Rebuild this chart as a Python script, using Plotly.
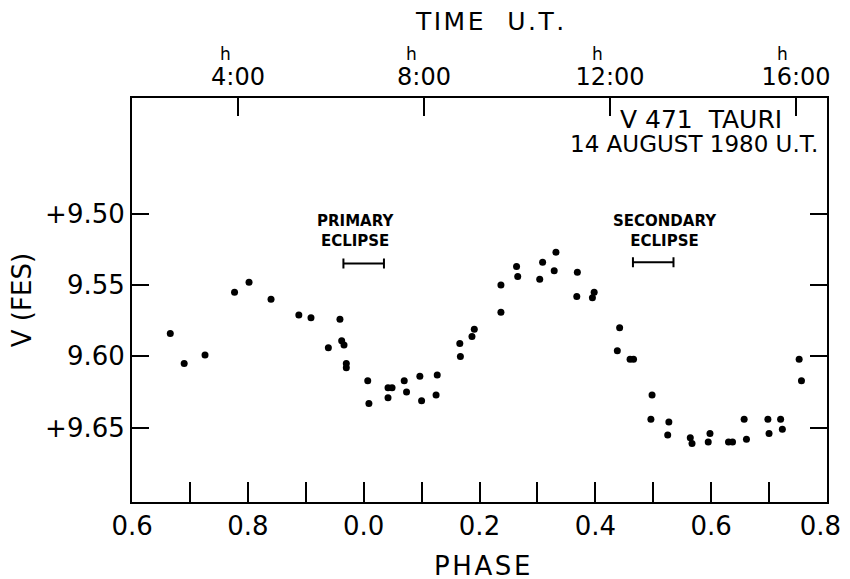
import plotly.graph_objects as go

# ---- data (unwrapped phase: 0.6 .. 1.8) ----
phase = [0.666, 0.690, 0.726, 0.777, 0.802, 0.840, 0.888, 0.909, 0.959, 0.939,
         0.962, 0.966, 0.970, 0.970, 1.007, 1.009, 1.042, 1.049, 1.042, 1.070,
         1.074, 1.097, 1.100, 1.127, 1.125, 1.166, 1.167, 1.191, 1.187, 1.237,
         1.237, 1.264, 1.266, 1.309, 1.304, 1.332, 1.329, 1.369, 1.368, 1.398,
         1.395, 1.442, 1.438, 1.460, 1.466, 1.498, 1.496, 1.527, 1.525, 1.564,
         1.567, 1.598, 1.595, 1.630, 1.637, 1.657, 1.661, 1.698, 1.700, 1.720,
         1.723, 1.752, 1.756]
vmag = [9.584, 9.605, 9.599, 9.555, 9.548, 9.560, 9.571, 9.573, 9.574, 9.594,
        9.589, 9.592, 9.605, 9.608, 9.617, 9.633, 9.622, 9.622, 9.629, 9.617,
        9.625, 9.614, 9.631, 9.613, 9.627, 9.591, 9.600, 9.581, 9.586, 9.550,
        9.569, 9.537, 9.544, 9.534, 9.546, 9.527, 9.540, 9.541, 9.558, 9.555,
        9.559, 9.580, 9.596, 9.602, 9.602, 9.627, 9.644, 9.646, 9.655, 9.657,
        9.661, 9.654, 9.660, 9.660, 9.660, 9.644, 9.658, 9.644, 9.654, 9.644,
        9.651, 9.602, 9.617]

phase_ticks = [0.6, 0.7, 0.8, 0.9, 1.0, 1.1, 1.2, 1.3, 1.4, 1.5, 1.6, 1.7, 1.8]
phase_labels = ["0.6", "", "0.8", "", "0.0", "", "0.2", "", "0.4", "", "0.6", "", "0.8\u2002"]
v_ticks = [9.50, 9.55, 9.60, 9.65]
v_labels = ["+9.50", "9.55", "9.60", "+9.65"]
time_ticks = [4, 8, 12, 16]
time_labels = ["4:00", "8:00", "12:00", "16:00"]

eclipse_centers = [1.0, 1.5]
eclipse_half = [0.035, 0.035]
eclipse_v = [9.535, 9.534]
eclipse_names = ["PRIMARY<br>ECLIPSE", "SECONDARY<br>ECLIPSE"]
eclipse_text_x = [0.985, 1.521]
eclipse_text_v = [9.5125, 9.5125]

FONT = "DejaVu Sans"
HS = "\u200a"


def spaced(s):
    return HS.join(s)


fig = go.Figure()
fig.add_trace(go.Scatter(x=phase, y=vmag, mode="markers",
                         marker=dict(color="black", size=7), showlegend=False))
fig.add_trace(go.Scatter(x=eclipse_centers, y=eclipse_v, mode="markers",
                         marker=dict(color="black", size=1, opacity=0),
                         error_x=dict(type="data", array=eclipse_half, color="black",
                                      thickness=2, width=5),
                         showlegend=False))
# invisible trace for the time axis
fig.add_trace(go.Scatter(x=time_ticks, y=[9.45] * len(time_ticks), xaxis="x2",
                         mode="markers", marker=dict(opacity=0), showlegend=False,
                         hoverinfo="skip"))

for t, xv, yv in zip(eclipse_names, eclipse_text_x, eclipse_text_v):
    fig.add_annotation(x=xv, y=yv, text="<b>" + t + "</b>", showarrow=False,
                       xanchor="center", yanchor="middle",
                       font=dict(family=FONT, size=15, color="black"))

for tv in time_ticks:
    fig.add_annotation(x=tv, y=1.108, xref="x2", yref="paper", text="h",
                       showarrow=False, xshift=-13, xanchor="center", yanchor="middle",
                       font=dict(family=FONT, size=17, color="black"))

fig.add_annotation(x=0.515, y=1.19, xref="paper", yref="paper",
                   text=spaced("TIME") + "\u00a0\u00a0\u00a0" + spaced("U.T."),
                   showarrow=False, xanchor="center", yanchor="middle",
                   font=dict(family=FONT, size=25, color="black"))
fig.add_annotation(x=0.504, y=-0.158, xref="paper", yref="paper",
                   text=spaced("PHASE"), showarrow=False, xanchor="center", yanchor="middle",
                   font=dict(family=FONT, size=26, color="black"))
fig.add_annotation(x=-0.158, y=0.5, xref="paper", yref="paper",
                   text="V (FES)", textangle=-90, showarrow=False,
                   xanchor="center", yanchor="middle",
                   font=dict(family=FONT, size=26, color="black"))
fig.add_annotation(x=0.819, y=0.947, xref="paper", yref="paper",
                   text="V 471  TAURI", showarrow=False, xanchor="center", yanchor="middle",
                   font=dict(family=FONT, size=25, color="black"))
fig.add_annotation(x=0.99, y=0.887, xref="paper", yref="paper", xanchor="right",
                   yanchor="middle", text="14 AUGUST 1980 U.T.", showarrow=False,
                   font=dict(family=FONT, size=23, color="black"))

axis_common = dict(showgrid=False, zeroline=False, showline=True, linecolor="black",
                   linewidth=2, ticks="inside", tickcolor="black", tickwidth=2,
                   automargin=False, ticklabeloverflow="allow")

fig.update_layout(
    width=850, height=579,
    margin=dict(l=124, r=31, t=90, b=85),
    paper_bgcolor="white", plot_bgcolor="white",
    font=dict(family=FONT, color="black"),
    xaxis=dict(range=[0.5999, 1.8001], tickvals=phase_ticks, ticktext=phase_labels,
               ticklen=20, mirror=True, tickfont=dict(size=26), **axis_common),
    xaxis2=dict(range=[1.72, 16.667], overlaying="x", side="top",
                tickvals=time_ticks, ticktext=time_labels, ticklen=18,
                ticklabelstandoff=1, tickfont=dict(size=24), **axis_common),
    yaxis=dict(range=[9.702, 9.419], tickvals=v_ticks, ticktext=v_labels,
               ticklen=17, mirror="ticks", tickfont=dict(size=26), **axis_common),
)

fig.write_html("out.html")
